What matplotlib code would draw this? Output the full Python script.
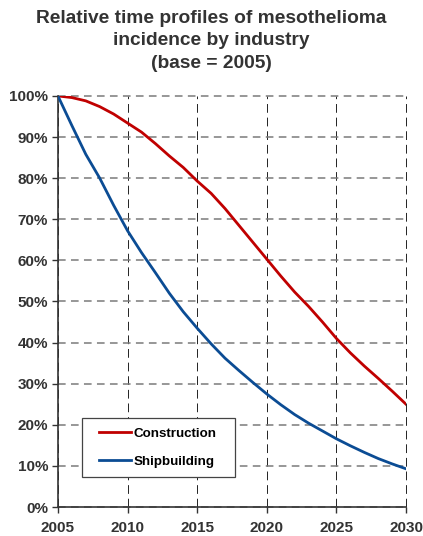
import matplotlib
matplotlib.use('Agg')
import matplotlib.pyplot as plt
from matplotlib.legend_handler import HandlerLine2D
import numpy as np

#data (percent of 2005 level)
years = list(range(2005, 2031))
construction = [100, 99.6, 98.8, 97.4, 95.6, 93.4, 91.2, 88.4, 85.4, 82.6,
                79.3, 76.3, 72.6, 68.5, 64.4, 60.3, 56.2, 52.3, 48.8, 45.0,
                41.0, 37.5, 34.3, 31.3, 28.2, 25.0]
shipbuilding = [100, 92.8, 85.8, 80.0, 73.4, 67.2, 61.9, 57.0, 52.0, 47.5,
                43.5, 39.7, 36.2, 33.2, 30.3, 27.5, 24.9, 22.5, 20.4, 18.5,
                16.6, 14.9, 13.3, 11.8, 10.5, 9.3]
xticks = [2005, 2010, 2015, 2020, 2025, 2030]
yticks = list(range(0, 101, 10))

plt.rcParams['font.family'] = ['Liberation Sans', 'DejaVu Sans']

fig = plt.figure(figsize=(4.23, 5.36), dpi=100)
ax = fig.add_axes([0.137, 0.054, 0.823, 0.767])

ax.set_xlim(2005, 2030)
ax.set_ylim(0, 100)
ax.set_xticks(xticks)
ax.set_yticks(yticks)
ax.set_yticklabels([str(v) + '%' for v in yticks])
for lab in ax.get_xticklabels() + ax.get_yticklabels():
    lab.set_fontweight('bold')
    lab.set_fontsize(11)
    lab.set_color('#333333')

#gray dashed horizontals, thin black dashed verticals
ax.yaxis.grid(True, linestyle=(0, (5, 3.5)), color='#7a7a7a', lw=1.1, clip_on=False)
ax.xaxis.grid(True, linestyle=(0, (9, 5)), color='#222222', lw=0.7, clip_on=False)
ax.set_axisbelow(True)

l1, = ax.plot(years, construction, color='#C00000', lw=2.0, label='Construction', zorder=3)
l2, = ax.plot(years, shipbuilding, color='#0B4C94', lw=2.0, label='Shipbuilding', zorder=3)

for s in ['top', 'right']:
    ax.spines[s].set_visible(False)
for s in ['left', 'bottom']:
    ax.spines[s].set_linewidth(1.2)
    ax.spines[s].set_color('#333333')
ax.tick_params(direction='out', length=4, width=1.0, color='#333333')
ax.tick_params(axis='x', pad=6)
ax.tick_params(axis='y', pad=3)

fig.suptitle('Relative time profiles of mesothelioma\nincidence by industry\n(base = 2005)',
             x=0.5, y=0.982, fontsize=13.8, fontweight='bold', color='#333333',
             linespacing=1.45)

hmap = {l1: HandlerLine2D(xpad=0.6), l2: HandlerLine2D(xpad=0.6)}
leg = ax.legend(handler_map=hmap, loc='lower left', bbox_to_anchor=(0.069, 0.073, 0.44, 0.15),
                mode='expand', fancybox=False, edgecolor='#444444', framealpha=1,
                prop={'weight': 'bold', 'size': 9.6},
                handlelength=3.0, labelspacing=1.15, borderpad=0.7, handletextpad=0.2,
                borderaxespad=0)
leg.get_frame().set_linewidth(0.9)

plt.savefig('out.png', dpi=100)
